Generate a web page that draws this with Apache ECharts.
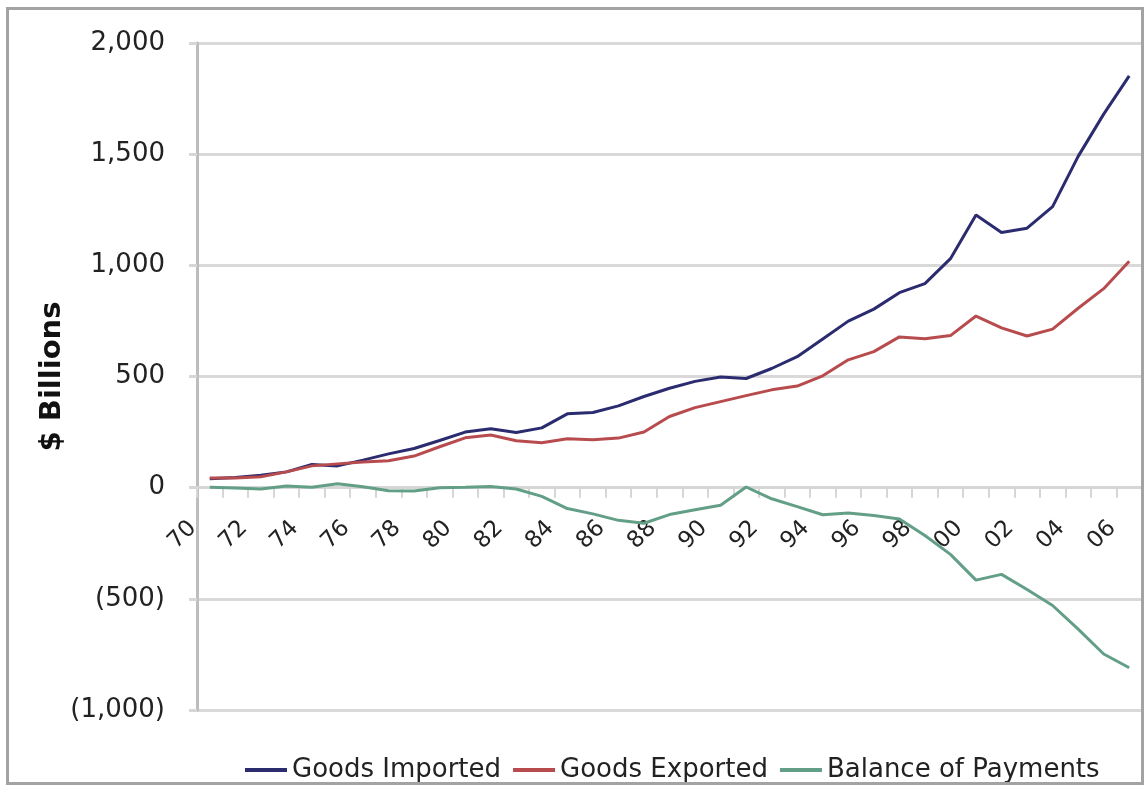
<!DOCTYPE html>
<html>
<head>
<meta charset="utf-8">
<script src="https://cdn.jsdelivr.net/npm/echarts@6/dist/echarts.min.js"></script>
<style>
  html, body { margin: 0; padding: 0; background: #fff; }
  #chart { position: absolute; left: 0; top: 0; width: 1145px; height: 785px; }
  #frame { position: absolute; left: 6px; top: 7px; width: 1132px; height: 772px; border: 3px solid #a3a3a3; pointer-events: none; }
</style>
</head>
<body>
<div id="chart"></div>
<div id="frame"></div>
<script>
// Years 1970..2006 (one category per year)
const years = ['70','71','72','73','74','75','76','77','78','79','80','81','82','83','84','85','86','87','88','89',
               '90','91','92','93','94','95','96','97','98','99','00','01','02','03','04','05','06'];
const goodsImported = [40, 46, 56, 71, 104, 98, 124, 152, 176, 212, 250, 265, 248, 269, 332, 338, 368, 410, 447, 478,
                       498, 491, 536, 589, 669, 749, 803, 877, 918, 1030, 1226, 1148, 1167, 1264, 1490, 1680, 1852];
const goodsExported = [43, 43, 49, 71, 98, 107, 115, 121, 142, 184, 224, 237, 211, 202, 220, 216, 223, 250, 320, 360,
                       387, 414, 440, 457, 503, 575, 612, 678, 670, 684, 772, 719, 682, 713, 807, 895, 1018];
const balanceOfPayments = [2, -1, -6, 7, 2, 18, 4, -14, -15, 0, 2, 5, -6, -39, -94, -118, -147, -160, -121, -99,
                           -79, 3, -50, -85, -122, -114, -125, -141, -215, -300, -416, -390, -458, -530, -636, -748, -810];
const yTicks = { min: -1000, max: 2000, interval: 500 };

const FONT = 'DejaVu Sans';
function fmt(v) {
  const s = Math.abs(v).toLocaleString('en-US');
  return v < 0 ? '(' + s + ')' : s;
}

const GRID = { left: 197, right: 3, top: 43, bottom: 75 };
const chart = echarts.init(document.getElementById('chart'), null, { renderer: 'canvas' });
const option = {
  animation: false,
  backgroundColor: '#ffffff',
  textStyle: { fontFamily: FONT },
  grid: Object.assign({ containLabel: false }, GRID),
  legend: {
    left: 240, top: 752,
    itemWidth: 42, itemHeight: 4, itemGap: 12,
    icon: 'rect',
    textStyle: { fontFamily: FONT, fontSize: 26, color: '#222' },
    data: ['Goods Imported', 'Goods Exported', 'Balance of Payments']
  },
  xAxis: {
    type: 'category',
    data: years,
    boundaryGap: true,
    position: 'bottom',
    offset: 0,
    axisLine: { onZero: false, lineStyle: { color: '#d6d6d6', width: 3 } },
    axisTick: { show: true, interval: 0, length: 10, lineStyle: { color: '#d6d6d6', width: 2 } },
    axisLabel: {
      interval: 1, rotate: 45, margin: 20,
      fontFamily: FONT, fontSize: 23, color: '#222',
      padding: [0, 24, 0, 0]
    },
    splitLine: { show: false }
  },
  yAxis: {
    type: 'value',
    min: yTicks.min, max: yTicks.max, interval: yTicks.interval,
    name: '$ Billions',
    nameLocation: 'middle',
    nameRotate: 90,
    nameGap: 130,
    nameMoveOverlap: false,
    nameTextStyle: { fontFamily: FONT, fontSize: 29, fontWeight: 'bold', color: '#111' },
    axisLine: { show: true, lineStyle: { color: '#bdbdbd', width: 3 } },
    axisTick: { show: true, length: 8, lineStyle: { color: '#d6d6d6', width: 3 } },
    axisLabel: { margin: 32, fontFamily: FONT, fontSize: 26, color: '#222', formatter: fmt },
    splitLine: { show: true, lineStyle: { color: '#d9d9d9', width: 3 } }
  },
  series: [
    { name: 'Goods Imported', type: 'line', data: goodsImported, symbol: 'none',
      lineStyle: { color: '#2b2b70', width: 3 }, itemStyle: { color: '#2b2b70' } },
    { name: 'Goods Exported', type: 'line', data: goodsExported, symbol: 'none',
      lineStyle: { color: '#b84b4d', width: 3 }, itemStyle: { color: '#b84b4d' } },
    { name: 'Balance of Payments', type: 'line', data: balanceOfPayments, symbol: 'none',
      lineStyle: { color: '#639f87', width: 3 }, itemStyle: { color: '#639f87' } }
  ]
};
chart.setOption(option);
// Move the category axis (line, ticks, labels) up to the value axis' zero, as in the reference.
const zeroY = chart.convertToPixel({ yAxisIndex: 0 }, 0);
const gridBottomY = chart.getHeight() - GRID.bottom;
chart.setOption({ xAxis: { offset: zeroY - gridBottomY } });
</script>
</body>
</html>
